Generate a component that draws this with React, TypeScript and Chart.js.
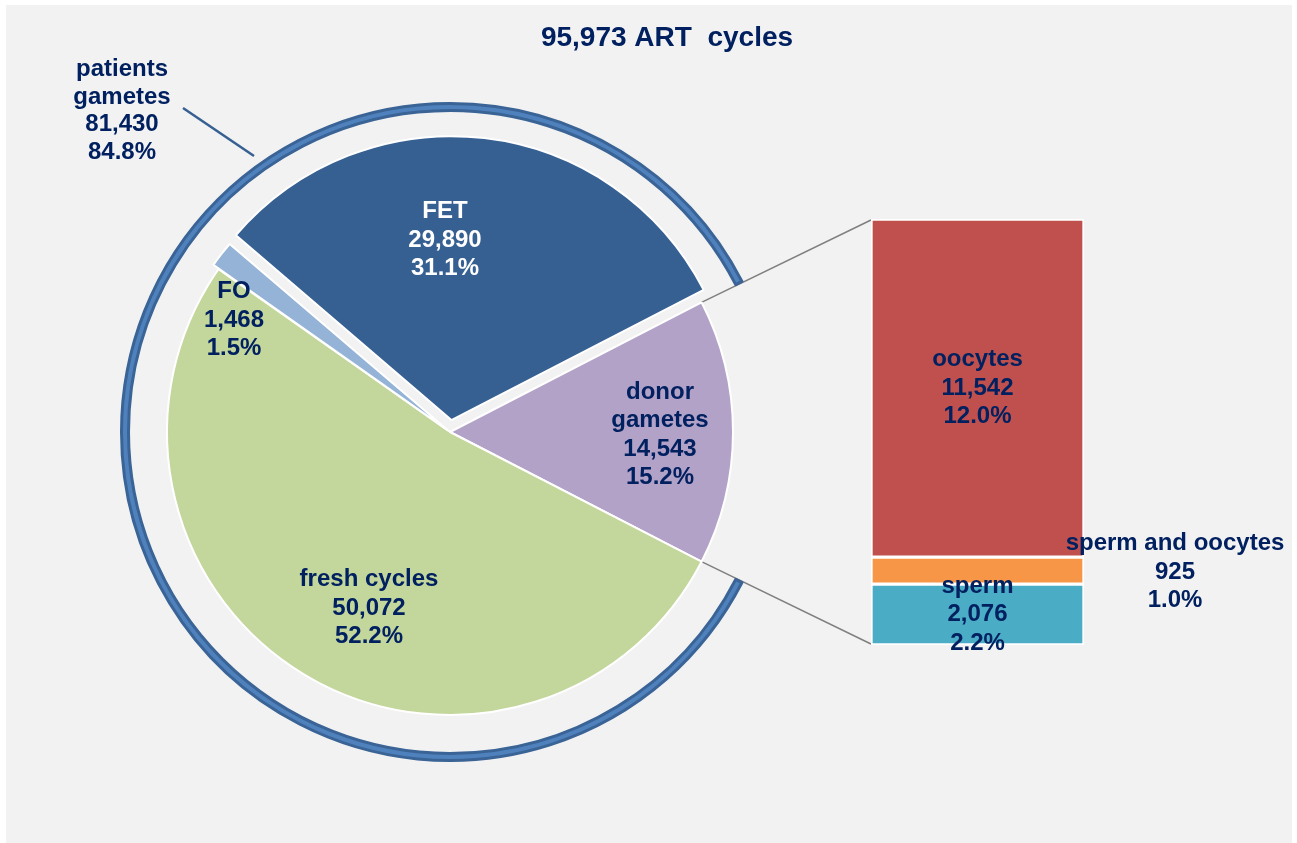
import React, { useEffect, useRef } from 'react';
import { Chart, registerables } from 'chart.js';

Chart.register(...registerables);

// ---- data ----
const TITLE = '95,973 ART  cycles';
const pieNames = ['donor\ngametes', 'fresh cycles', 'FO', 'FET'];
const pieValues = [14543, 50072, 1468, 29890];
const ringNames = ['donor gametes', 'patients\ngametes'];
const ringValues = [14543, 81430];
const barNames = ['sperm', 'sperm and oocytes', 'oocytes'];
const barValues = [2076, 925, 11542];

// ---- styles ----
const pieColors = ['#b3a2c7', '#c3d69b', '#95b3d7', '#376092'];
const pieTextColors = ['#002060', '#002060', '#002060', '#ffffff'];
const pieOffsets = [0, 0, 14, 48];
const barColors = ['#4bacc6', '#f79646', '#c0504d'];
const NAVY = '#002060';
const FONT = '"Liberation Sans", Arial, sans-serif';

const W = 1297;
const H = 843;

const total = pieValues.reduce((a, b) => a + b, 0);
const donorTotal = barValues.reduce((a, b) => a + b, 0);

const fmt = (v: number) => v.toLocaleString('en-US');
const pct = (v: number) => ((v / total) * 100).toFixed(1) + '%';

function drawLines(ctx: CanvasRenderingContext2D, lines: string[], x: number, y: number, color: string, size = 24, lh = 28.5) {
  ctx.save();
  ctx.font = `bold ${size}px ${FONT}`;
  ctx.fillStyle = color;
  ctx.textAlign = 'center';
  ctx.textBaseline = 'middle';
  const y0 = y - ((lines.length - 1) * lh) / 2;
  lines.forEach((t, i) => ctx.fillText(t, x, y0 + i * lh));
  ctx.restore();
}

// label anchor offsets relative to the pie centre (layout only)
const pieLabelOffsets: [number, number][] = [
  [210, 3],
  [-81, 176],
  [-216, -112],
  [-5, -192],
];
const ringLabelOffset: [number, number] = [-328, -321];
const ringLeader: [number, number, number, number] = [-267, -324, -196, -276];

export default function App() {
  const pieRef = useRef<HTMLCanvasElement | null>(null);
  const barRef = useRef<HTMLCanvasElement | null>(null);

  useEffect(() => {
    if (!pieRef.current || !barRef.current) return;

    const barPlugin = {
      id: 'barLabels',
      afterDatasetsDraw(chart: any) {
        const ctx = chart.ctx as CanvasRenderingContext2D;
        barNames.forEach((name, i) => {
          const el: any = chart.getDatasetMeta(i).data[0];
          const lines = [name, fmt(barValues[i]), pct(barValues[i])];
          const cy = (el.y + el.base) / 2;
          if (i === 1) {
            drawLines(ctx, lines, el.x + el.width / 2 + 91, cy + 1.5, NAVY);
          } else {
            drawLines(ctx, lines, el.x, cy, NAVY);
          }
        });
      },
    };

    const bar = new Chart(barRef.current, {
      type: 'bar',
      data: {
        labels: ['donor gametes'],
        datasets: barNames.map((n, i) => ({
          label: n,
          data: [barValues[i]],
          backgroundColor: barColors[i],
          borderColor: '#ffffff',
          borderWidth: 2,
          borderSkipped: false,
          barPercentage: 1,
          categoryPercentage: 1,
          stack: 'donor',
        })),
      },
      options: {
        responsive: false,
        animation: false,
        events: [],
        layout: { padding: { left: 871, right: W - 1084, top: 219, bottom: H - 645 } },
        scales: {
          x: { display: false, stacked: true },
          y: { display: false, stacked: true, min: 0, max: donorTotal },
        },
        plugins: { legend: { display: false }, tooltip: { enabled: false } },
      },
      plugins: [barPlugin],
    } as any);

    const piePlugin = {
      id: 'pieDeco',
      beforeDatasetsDraw(chart: any) {
        const ctx = chart.ctx as CanvasRenderingContext2D;
        const arc0: any = chart.getDatasetMeta(2).data[0];
        const cx = arc0.x;
        const cy = arc0.y;
        const R = arc0.outerRadius;
        const topEl: any = bar.getDatasetMeta(2).data[0];
        const botEl: any = bar.getDatasetMeta(0).data[0];
        const left = topEl.x - topEl.width / 2;
        ctx.save();
        ctx.strokeStyle = '#7f7f7f';
        ctx.lineWidth = 1.5;
        ctx.beginPath();
        ctx.moveTo(cx + R * Math.cos(arc0.startAngle), cy + R * Math.sin(arc0.startAngle));
        ctx.lineTo(left, topEl.y + 1);
        ctx.moveTo(cx + R * Math.cos(arc0.endAngle), cy + R * Math.sin(arc0.endAngle));
        ctx.lineTo(left, botEl.base - 1);
        ctx.stroke();
        // leader for the ring label
        ctx.strokeStyle = '#376092';
        ctx.lineWidth = 2.5;
        ctx.beginPath();
        ctx.moveTo(cx + ringLeader[0], cy + ringLeader[1]);
        ctx.lineTo(cx + ringLeader[2], cy + ringLeader[3]);
        ctx.stroke();
        ctx.restore();
      },
      afterDatasetsDraw(chart: any) {
        const ctx = chart.ctx as CanvasRenderingContext2D;
        const arc0: any = chart.getDatasetMeta(2).data[0];
        const cx = arc0.x;
        const cy = arc0.y;
        pieNames.forEach((name, i) => {
          const lines = [...name.split('\n'), fmt(pieValues[i]), pct(pieValues[i])];
          drawLines(ctx, lines, cx + pieLabelOffsets[i][0], cy + pieLabelOffsets[i][1], pieTextColors[i]);
        });
        const rl = [...ringNames[1].split('\n'), fmt(ringValues[1]), pct(ringValues[1])];
        drawLines(ctx, rl, cx + ringLabelOffset[0], cy + ringLabelOffset[1], NAVY, 24, 27.5);
        // title
        drawLines(ctx, [TITLE], 667, 38, NAVY, 28);
      },
    };

    const transparent = 'rgba(0,0,0,0)';
    const pie = new Chart(pieRef.current, {
      type: 'pie',
      data: {
        labels: pieNames,
        datasets: [
          {
            label: 'ring',
            data: ringValues,
            backgroundColor: [transparent, '#4f81bd'],
            borderColor: [transparent, '#3a6396'],
            borderWidth: [0, 3],
            hoverBorderWidth: [0, 3],
            borderJoinStyle: 'round',
            offset: [48, 0],
            hoverOffset: 0,
            weight: 7,
          },
          {
            label: 'gap',
            data: ringValues,
            backgroundColor: [transparent, transparent],
            borderColor: [transparent, transparent],
            borderWidth: 0,
            hoverBorderWidth: 0,
            offset: [48, 48],
            hoverOffset: 0,
            weight: 38.5,
          },
          {
            label: 'cycles',
            data: pieValues,
            backgroundColor: pieColors,
            borderColor: '#ffffff',
            borderWidth: 2,
            hoverBorderWidth: 2,
            offset: pieOffsets,
            hoverOffset: 0,
            weight: 283,
          },
        ],
      },
      options: {
        responsive: false,
        animation: false,
        events: [],
        rotation: 90 - (pieValues[0] / total) * 180,
        layout: { padding: { left: 96, right: W - 804, top: 78, bottom: H - 786 } },
        plugins: { legend: { display: false }, tooltip: { enabled: false } },
      },
      plugins: [piePlugin],
    } as any);

    return () => {
      pie.destroy();
      bar.destroy();
    };
  }, []);

  return (
    <div style={{ position: 'fixed', left: 0, top: 0, width: W, height: H, background: '#ffffff' }}>
      <div style={{ position: 'absolute', left: 6, top: 5, width: 1286, height: 838, background: '#f2f2f2' }} />
      <canvas ref={pieRef} width={W} height={H} style={{ position: 'absolute', left: 0, top: 0 }} />
      <canvas ref={barRef} width={W} height={H} style={{ position: 'absolute', left: 0, top: 0 }} />
    </div>
  );
}
